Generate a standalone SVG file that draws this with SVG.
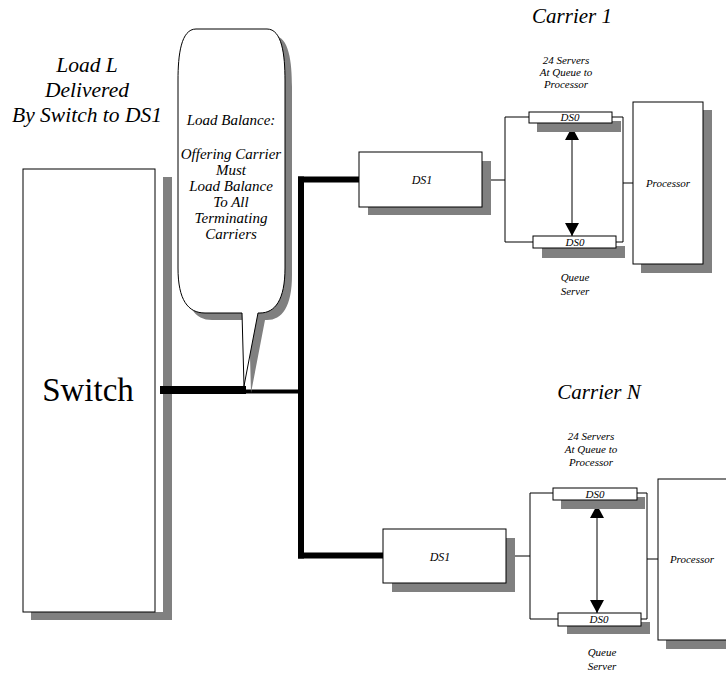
<svg xmlns="http://www.w3.org/2000/svg" width="726" height="677" viewBox="0 0 726 677">
<defs>
<style>
text{font-family:"Liberation Serif","Times New Roman",serif;fill:#000;text-anchor:middle}
.it{font-style:italic}
.box{fill:#fff;stroke:#000;stroke-width:1}
.sh{fill:#808080;stroke:none}
.thin{fill:none;stroke:#000;stroke-width:1}
.thick{fill:none;stroke:#000;stroke-width:6}
</style>
<marker id="ah" markerUnits="userSpaceOnUse" markerWidth="14" markerHeight="14" viewBox="0 0 14 14" refX="13" refY="7" orient="auto-start-reverse">
<path d="M0,0 L13,7 L0,14 Z" fill="#000"/>
</marker>
</defs>
<rect width="726" height="677" fill="#fff"/>

<g id="labels">
<text class="it" x="87" y="72" font-size="21.5">Load L</text>
<text class="it" x="87" y="97" font-size="21.5">Delivered</text>
<text class="it" x="87" y="122" font-size="21.5">By Switch to DS1</text>
<text class="it" x="572" y="23" font-size="21">Carrier 1</text>
<text class="it" x="599" y="399" font-size="21">Carrier N</text>
</g>

<g id="switch">
<rect class="sh" x="163" y="177" width="9" height="443"/>
<rect class="sh" x="31" y="612" width="141" height="8"/>
<rect class="box" x="23" y="169" width="132" height="443"/>
<text x="88" y="401" font-size="33">Switch</text>
</g>

<g id="connectors">
<line x1="160" y1="390" x2="246" y2="390" stroke="#000" stroke-width="8"/>
<line x1="244" y1="391.5" x2="302" y2="391.5" stroke="#000" stroke-width="4"/>
<line class="thick" x1="301" y1="176.5" x2="301" y2="558.5"/>
<line class="thick" x1="298" y1="179.5" x2="359" y2="179.5"/>
<line class="thick" x1="298" y1="555.5" x2="383" y2="555.5"/>
<!-- carrier 1 -->
<polyline class="thin" points="482,180 505,180"/>
<polyline class="thin" points="529,117 505,117 505,242 533,242"/>
<polyline class="thin" points="612,117 623,117 623,242 616,242"/>
<line class="thin" x1="623" y1="183" x2="633" y2="183"/>
<line x1="572" y1="127" x2="572" y2="236" stroke="#000" stroke-width="1" marker-start="url(#ah)" marker-end="url(#ah)"/>
<!-- carrier N -->
<polyline class="thin" points="506,556 530,556"/>
<polyline class="thin" points="553,493 530,493 530,619 558,619"/>
<polyline class="thin" points="637,493 647,493 647,619 641,619"/>
<line class="thin" x1="647" y1="559" x2="658" y2="559"/>
<line x1="597" y1="505" x2="597" y2="613" stroke="#000" stroke-width="1" marker-start="url(#ah)" marker-end="url(#ah)"/>
</g>

<g id="bubble">
<path class="sh" transform="translate(7,7)" d="M196,29 L267,29 C282,29 285,55 285,80 L285,268 C285,300 275,313 260,313 L258,313 L244,386 L242,313 L205,313 C188,313 178,300 178,268 L178,80 C178,55 181,29 196,29 Z"/>
<path fill="#fff" stroke="#000" stroke-width="1" d="M196,29 L267,29 C282,29 285,55 285,80 L285,268 C285,300 275,313 260,313 L258,313 L244,386 L242,313 L205,313 C188,313 178,300 178,268 L178,80 C178,55 181,29 196,29 Z"/>
<g font-size="15">
<text class="it" x="231" y="125">Load Balance:</text>
<text class="it" x="231" y="159">Offering Carrier</text>
<text class="it" x="231" y="175">Must</text>
<text class="it" x="231" y="191">Load Balance</text>
<text class="it" x="231" y="207">To All</text>
<text class="it" x="231" y="223">Terminating</text>
<text class="it" x="231" y="239">Carriers</text>
</g>
</g>

<g id="ds1-1">
<rect class="sh" x="368" y="161" width="123" height="54"/>
<rect class="box" x="359" y="152" width="123" height="55"/>
<text class="it" x="422" y="184" font-size="12">DS1</text>
</g>
<g id="ds0-1-top">
<rect class="sh" x="537" y="121" width="84" height="11"/>
<rect class="box" x="529" y="112" width="83" height="11"/>
<text class="it" x="570" y="121" font-size="11">DS0</text>
</g>
<g id="ds0-1-bottom">
<rect class="sh" x="542" y="246" width="83" height="12"/>
<rect class="box" x="533" y="236" width="83" height="12"/>
<text class="it" x="575" y="246" font-size="11">DS0</text>
</g>
<g id="processor-1">
<rect class="sh" x="641" y="110" width="71" height="163"/>
<rect class="box" x="633" y="102" width="70" height="162"/>
<text class="it" x="668" y="187" font-size="11">Processor</text>
</g>
<g id="notes-1" font-size="11">
<text class="it" x="566" y="64">24 Servers</text>
<text class="it" x="566" y="76">At Queue to</text>
<text class="it" x="566" y="88">Processor</text>
<text class="it" x="575" y="281">Queue</text>
<text class="it" x="575" y="295">Server</text>
</g>

<g id="ds1-n">
<rect class="sh" x="392" y="538" width="123" height="54"/>
<rect class="box" x="383" y="529" width="123" height="54"/>
<text class="it" x="440" y="561" font-size="12">DS1</text>
</g>
<g id="ds0-n-top">
<rect class="sh" x="561" y="497" width="84" height="12"/>
<rect class="box" x="553" y="488" width="84" height="12"/>
<text class="it" x="595" y="498" font-size="11">DS0</text>
</g>
<g id="ds0-n-bottom">
<rect class="sh" x="567" y="622" width="83" height="12"/>
<rect class="box" x="558" y="613" width="83" height="13"/>
<text class="it" x="599" y="623" font-size="11">DS0</text>
</g>
<g id="processor-n">
<rect class="sh" x="666" y="488" width="70" height="161"/>
<rect class="box" x="658" y="479" width="70" height="161"/>
<text class="it" x="692" y="563" font-size="11">Processor</text>
</g>
<g id="notes-n" font-size="11">
<text class="it" x="591" y="440">24 Servers</text>
<text class="it" x="591" y="453">At Queue to</text>
<text class="it" x="591" y="466">Processor</text>
<text class="it" x="602" y="656">Queue</text>
<text class="it" x="602" y="670">Server</text>
</g>
</svg>
